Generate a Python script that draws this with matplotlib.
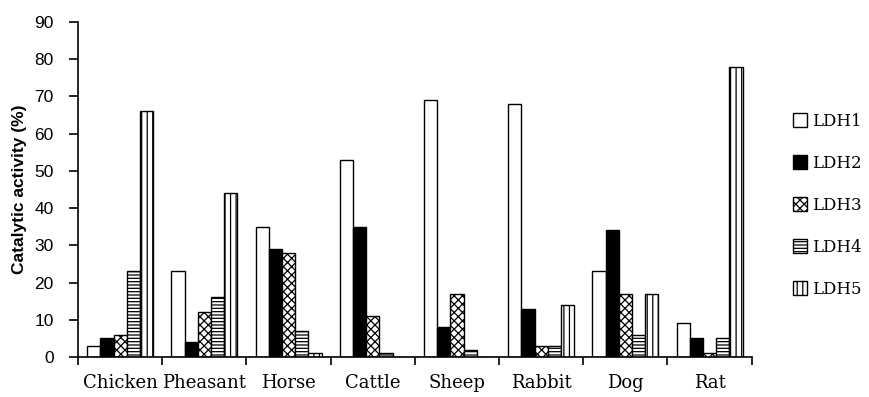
import matplotlib
matplotlib.use("Agg")
import matplotlib.pyplot as plt
import numpy as np

categories = ["Chicken", "Pheasant", "Horse", "Cattle", "Sheep", "Rabbit", "Dog", "Rat"]
series_names = ["LDH1", "LDH2", "LDH3", "LDH4", "LDH5"]
ldh1 = [3, 23, 35, 53, 69, 68, 23, 9]
ldh2 = [5, 4, 29, 35, 8, 13, 34, 5]
ldh3 = [6, 12, 28, 11, 17, 3, 17, 1]
ldh4 = [23, 16, 7, 1, 2, 3, 6, 5]
ldh5 = [66, 44, 1, 0, 0, 14, 17, 78]
yticks = list(range(0, 100, 10))

plt.rcParams['font.family'] = ['DejaVu Serif']
plt.rcParams['hatch.linewidth'] = 0.9

fig = plt.figure(figsize=(8.7, 3.97), dpi=100)
ax = fig.add_axes([0.0897, 0.1008, 0.7743, 0.8438])

data = [ldh1, ldh2, ldh3, ldh4, ldh5]
faces = ["white", "black", "white", "white", "white"]
hatches = [None, None, "xxxx", "-----", "|||"]
x = np.arange(len(categories))
w = 0.157
for i, (vals, fc, h, name) in enumerate(zip(data, faces, hatches, series_names)):
    ax.bar(x + (i - 2) * w, vals, width=w, facecolor=fc, edgecolor="black",
           hatch=h, linewidth=1.0, label=name)

ax.set_xlim(-0.5, len(categories) - 0.5)
ax.set_ylim(0, 90)
ax.set_yticks(yticks)
ax.set_yticklabels([str(t) for t in yticks], fontsize=12.5, family=['Liberation Sans'])
ax.set_xticks(x)
ax.set_xticklabels(categories, fontsize=13, family=['DejaVu Serif'])
ax.tick_params(axis='x', length=0, pad=12)
ax.set_xticks(np.arange(-0.5, len(categories), 1.0), minor=True)
ax.tick_params(axis='x', which='minor', length=6, width=1.2, direction='out')
ax.tick_params(axis='y', length=6.5, width=1.2, direction='out', pad=11)
for s in ["top", "right"]:
    ax.spines[s].set_visible(False)
for s in ["left", "bottom"]:
    ax.spines[s].set_linewidth(1.2)
ax.set_ylabel("Catalytic activity (%)", fontsize=12.5, fontweight="bold",
              family=['Liberation Sans'], labelpad=5)

leg = fig.legend(loc="center left", bbox_to_anchor=(0.911, 0.483), frameon=False,
                 fontsize=12, labelspacing=1.5, handlelength=0.85, handleheight=0.85,
                 handletextpad=0.3, borderaxespad=0, borderpad=0)

fig.savefig("out.png", dpi=100)
